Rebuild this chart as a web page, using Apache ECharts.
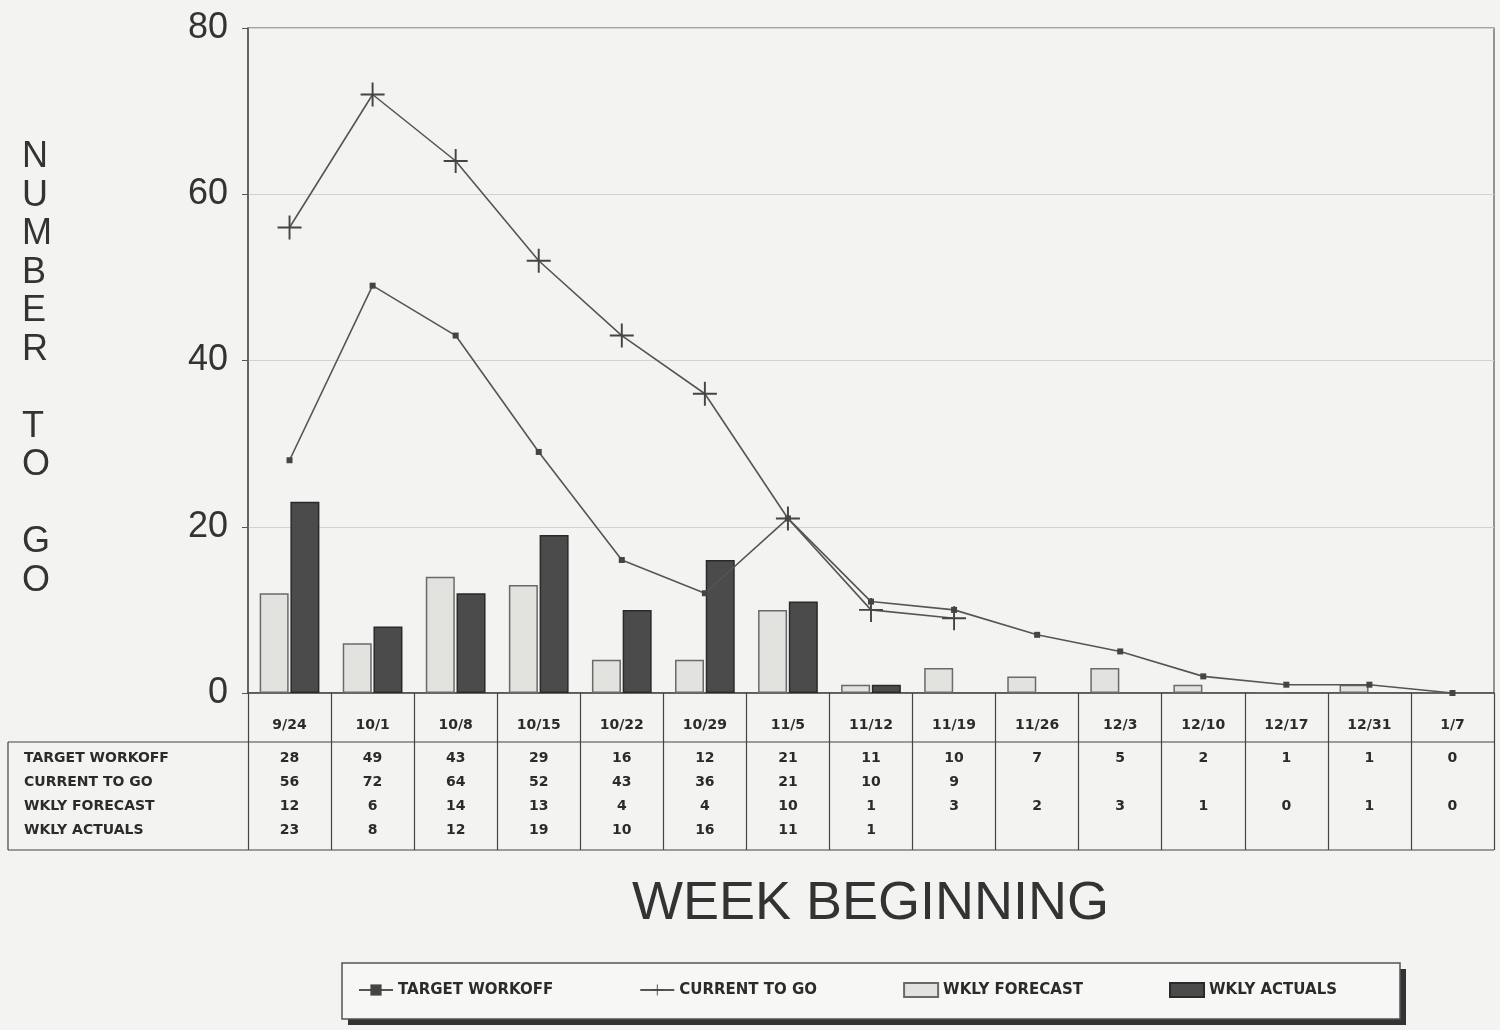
<!DOCTYPE html>
<html>
<head>
<meta charset="utf-8">
<script src="https://cdn.jsdelivr.net/npm/echarts@6/dist/echarts.min.js"></script>
<style>
  html, body { margin: 0; padding: 0; background: #f3f3f1; }
  #chart { width: 1500px; height: 1030px; }
</style>
</head>
<body>
<div id="chart"></div>
<script>
// week labels and the four rows of the table
const weeks = ['9/24', '10/1', '10/8', '10/15', '10/22', '10/29', '11/5', '11/12',
  '11/19', '11/26', '12/3', '12/10', '12/17', '12/31', '1/7'];
const targetWorkoff = [28, 49, 43, 29, 16, 12, 21, 11, 10, 7, 5, 2, 1, 1, 0];
const currentToGo = [56, 72, 64, 52, 43, 36, 21, 10, 9, null, null, null, null, null, null];
const wklyForecast = [12, 6, 14, 13, 4, 4, 10, 1, 3, 2, 3, 1, 0, 1, 0];
const wklyActuals = [23, 8, 12, 19, 10, 16, 11, 1, null, null, null, null, null, null, null];
const rowNames = ['TARGET WORKOFF', 'CURRENT TO GO', 'WKLY FORECAST', 'WKLY ACTUALS'];
const yTicks = [0, 20, 40, 60, 80];

const ink = '#2b2b2b';
const tableFont = 'DejaVu Sans';
const plusPath = 'path://M0,4.6H10V5.4H0Z M4.6,0H5.4V10H4.6Z';

const chart = echarts.init(document.getElementById('chart'));

function cell(v) {
  return v === null || v === undefined ? ' ' : String(v);
}

const option = {
  backgroundColor: '#f3f3f1',
  animation: false,
  grid: {
    left: 248,
    right: 6,
    top: 28,
    bottom: 337,
    show: true,
    borderColor: '#555',
    borderWidth: 1.2
  },
  legend: {
    left: 358,
    top: 982,
    padding: 0,
    itemGap: 86,
    itemWidth: 34,
    itemHeight: 14,
    textStyle: { color: ink, fontSize: 15, fontWeight: 'bold', fontFamily: tableFont },
    data: [
      { name: 'TARGET WORKOFF' },
      { name: 'CURRENT TO GO' },
      { name: 'WKLY FORECAST', icon: 'rect' },
      { name: 'WKLY ACTUALS', icon: 'rect' }
    ]
  },
  xAxis: {
    type: 'category',
    data: weeks,
    boundaryGap: true,
    axisLine: { lineStyle: { color: '#444', width: 1.5 } },
    axisTick: { show: true, length: 157, lineStyle: { color: '#444', width: 1.2 } },
    axisLabel: {
      margin: 11,
      interval: 0,
      color: ink,
      formatter: function (value, i) {
        return '{h|' + value + '}\n' +
          '{v|' + cell(targetWorkoff[i]) + '}\n' +
          '{v|' + cell(currentToGo[i]) + '}\n' +
          '{v|' + cell(wklyForecast[i]) + '}\n' +
          '{v|' + cell(wklyActuals[i]) + '}';
      },
      rich: {
        h: { fontSize: 14, fontWeight: 'bold', fontFamily: tableFont, color: ink, lineHeight: 42 },
        v: { fontSize: 14, fontWeight: 'bold', fontFamily: tableFont, color: ink, lineHeight: 24 }
      }
    }
  },
  yAxis: {
    type: 'value',
    min: 0,
    max: 80,
    interval: 20,
    axisLine: { show: true, lineStyle: { color: '#555', width: 1.5 } },
    axisTick: { show: true, length: 6, lineStyle: { color: '#555' } },
    axisLabel: {
      margin: 20,
      color: '#333',
      fontSize: 36,
      fontFamily: 'Liberation Sans',
      formatter: function (v) { return yTicks.indexOf(v) >= 0 ? String(v) : ''; }
    },
    splitLine: { lineStyle: { color: '#d2d2d0', width: 1.2 } }
  },
  series: [
    {
      name: 'WKLY FORECAST',
      type: 'bar',
      data: wklyForecast,
      barWidth: 29,
      barGap: '6%',
      itemStyle: { color: '#e2e2df', borderColor: '#6a6a6a', borderWidth: 1.5 }
    },
    {
      name: 'WKLY ACTUALS',
      type: 'bar',
      data: wklyActuals,
      barWidth: 29,
      itemStyle: { color: '#4b4b4b', borderColor: '#2a2a2a', borderWidth: 1.5 }
    },
    {
      name: 'TARGET WORKOFF',
      type: 'line',
      data: targetWorkoff,
      symbol: 'rect',
      symbolSize: 6,
      lineStyle: { color: '#555', width: 1.6 },
      itemStyle: { color: '#444' },
      z: 5
    },
    {
      name: 'CURRENT TO GO',
      type: 'line',
      data: currentToGo,
      connectNulls: false,
      symbol: plusPath,
      symbolSize: 24,
      lineStyle: { color: '#555', width: 1.6 },
      itemStyle: { color: '#444' },
      z: 6
    }
  ],
  graphic: [
    // legend frame: solid drop shadow, then the box on top
    {
      type: 'rect',
      z: -2,
      shape: { x: 348, y: 969, width: 1058, height: 56 },
      style: { fill: '#333' }
    },
    {
      type: 'rect',
      z: -1,
      shape: { x: 342, y: 963, width: 1058, height: 56 },
      style: { fill: '#f7f7f5', stroke: '#555', lineWidth: 1.5 }
    },
    // y axis title, one letter per line
    {
      type: 'text',
      left: 22,
      top: 138,
      style: {
        text: 'N\nU\nM\nB\nE\nR\n\nT\nO\n\nG\nO',
        font: '36px "Liberation Sans"',
        fill: '#333',
        lineHeight: 38.5,
        align: 'left'
      }
    },
    // x axis title
    {
      type: 'text',
      left: 632,
      top: 877,
      style: {
        text: 'WEEK BEGINNING',
        font: '54px "Liberation Sans"',
        fill: '#333'
      }
    },
    // table frame
    { type: 'line', shape: { x1: 8, y1: 742, x2: 1494, y2: 742 }, style: { stroke: '#444', lineWidth: 1.2 } },
    { type: 'line', shape: { x1: 8, y1: 850, x2: 1494, y2: 850 }, style: { stroke: '#444', lineWidth: 1.2 } },
    { type: 'line', shape: { x1: 8, y1: 742, x2: 8, y2: 850 }, style: { stroke: '#444', lineWidth: 1.2 } },
    // row names
    {
      type: 'group',
      left: 24,
      top: 751,
      children: rowNames.map(function (name, i) {
        return {
          type: 'text',
          x: 0,
          y: i * 24,
          style: { text: name, font: 'bold 14px "DejaVu Sans"', fill: ink }
        };
      })
    }
  ]
};

chart.setOption(option);
</script>
</body>
</html>
